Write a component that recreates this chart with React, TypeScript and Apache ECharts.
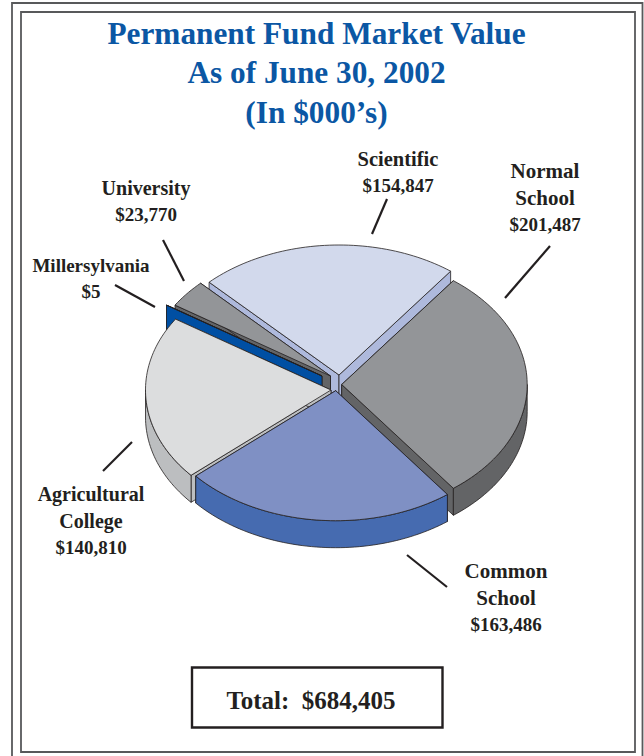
import React, { useEffect, useRef } from "react";
import * as echarts from "echarts";

// Fund names and market values in $000's, clockwise from the Normal School slice
const funds = ["Normal\nSchool", "Common\nSchool", "Agricultural\nCollege", "Millersylvania", "University", "Scientific"];
const values = [201487, 163486, 140810, 5, 23770, 154847];
const titleLines = ["Permanent Fund Market Value", "As of June 30, 2002", "(In $000\u2019s)"];

// Painter's order for the slices, farthest first
const drawOrder = [5, 4, 3, 0, 2, 1];

const FONT = '"Liberation Serif", serif';
const INK = "#231F20";
const BLUE = "#0B57A4";
const START_ANGLE = 53;
const RX = 185.5;
const RY = 130;
const DEPTH = 27;
const LABEL_LEADING = 26.5;

// Exploded apex of each slice, top face colour and wall colour
const apexes = [[341.7, 384.5], [335.7, 390.7], [331, 390], [322, 376], [330.5, 376], [339, 375]];
const topColors = ["#939598", "#7F90C4", "#DCDDDE", "#004FA3", "#939598", "#D2D9EC"];
const wallColors = ["#636466", "#466BB0", "#BCBEC0", "#004FA3", "#636466", "#AEB9DC"];

// First-line label centres, name font sizes and leader-line end points, same order as funds
const labelAt = [[545, 171], [506, 571], [91, 494], [91, 265], [146, 188], [398, 159]];
const nameSizes = [21, 21, 20, 19, 20, 20.5];
const leaders = [
  [505, 298, 550, 246],
  [407, 555, 447, 587],
  [132, 442, 103, 471],
  [155, 307, 115, 285],
  [184, 281, 163, 240],
  [372, 234, 387, 199],
];

const total = values.reduce((a, b) => a + b, 0);
const money = (v: number) => "$" + v.toLocaleString("en-US");

const sweep = (v: number) => (v / total) * 360;
const startOf = (i: number) => START_ANGLE - values.slice(0, i).reduce((a, v) => a + sweep(v), 0);

const rim = (apex: number[], deg: number, drop = 0) => {
  const r = (deg * Math.PI) / 180;
  return [apex[0] + RX * Math.cos(r), apex[1] - RY * Math.sin(r) + drop];
};

const arc = (apex: number[], from: number, to: number, drop = 0) => {
  const steps = Math.max(2, Math.ceil(Math.abs(from - to) / 1.5));
  const pts: number[][] = [];
  for (let k = 0; k <= steps; k++) pts.push(rim(apex, from + ((to - from) * k) / steps, drop));
  return pts;
};

const face = (points: number[][], fill: string) => ({
  type: "polygon",
  shape: { points },
  style: { fill, stroke: INK, lineWidth: 0.8, lineJoin: "round" },
});

const renderSlice = (_params: any, api: any) => {
  const i = api.value(0);
  const from = startOf(i);
  const to = from - sweep(api.value(1));
  const apex = apexes[i];
  const wall = wallColors[i];
  const below = [apex[0], apex[1] + DEPTH];
  const children: any[] = [];

  // Radial walls, then the visible part of the outer wall, then the top face
  for (const deg of [from, to]) {
    children.push(face([apex, rim(apex, deg), rim(apex, deg, DEPTH), below], wall));
  }
  const hi = Math.min(from, 0);
  const lo = Math.max(to, -180);
  if (hi > lo) {
    children.push(face([...arc(apex, hi, lo), ...arc(apex, lo, hi, DEPTH)], wall));
  }
  children.push(face([apex, ...arc(apex, from, to)], topColors[i]));
  return { type: "group", children };
};

const textEl = (text: string, x: number, y: number, size: number, fill: string) => ({
  type: "text",
  x,
  y,
  style: {
    text,
    fill,
    font: `bold ${size}px ${FONT}`,
    textAlign: "center",
    textVerticalAlign: "middle",
  },
});

// One text element per label line: the name lines, then the dollar value
const labelEls = (i: number) => {
  const [x, y] = labelAt[i];
  const lines = funds[i].split("\n");
  return [
    ...lines.map((line, k) => textEl(line, x, y + k * LABEL_LEADING, nameSizes[i], INK)),
    textEl(money(values[i]), x, y + lines.length * LABEL_LEADING, 19, INK),
  ];
};

export default function App() {
  const ref = useRef<HTMLDivElement>(null);

  useEffect(() => {
    document.body.style.margin = "0";
    const chart = echarts.init(ref.current!, null, { renderer: "svg" });
    const frameStyle = { fill: "none", stroke: "#58595B", lineWidth: 1.8 };

    chart.setOption({
      animation: false,
      backgroundColor: "#FFFFFF",
      series: [
        {
          type: "custom",
          coordinateSystem: "none",
          silent: true,
          renderItem: renderSlice,
          data: drawOrder.map((i) => [i, values[i]]),
        },
      ],
      graphic: [
        { type: "rect", shape: { x: 12, y: 3, width: 630.5, height: 760 }, style: frameStyle },
        { type: "rect", shape: { x: 21, y: 12, width: 614, height: 740 }, style: frameStyle },
        ...titleLines.map((line, k) => textEl(line, 316.5, 33 + k * 39.5, 31.3, BLUE)),
        ...funds.flatMap((_name, i) => labelEls(i)),
        ...leaders.map(([x1, y1, x2, y2]) => ({
          type: "line",
          shape: { x1, y1, x2, y2 },
          style: { stroke: INK, lineWidth: 2.2 },
        })),
        {
          type: "rect",
          shape: { x: 192, y: 667.5, width: 250.5, height: 60 },
          style: { fill: "#FFFFFF", stroke: INK, lineWidth: 2.4 },
        },
        textEl(`Total:  ${money(total)}`, 311, 700, 25, INK),
      ],
    });
    return () => chart.dispose();
  }, []);

  return <div ref={ref} style={{ width: 644, height: 756 }} />;
}
